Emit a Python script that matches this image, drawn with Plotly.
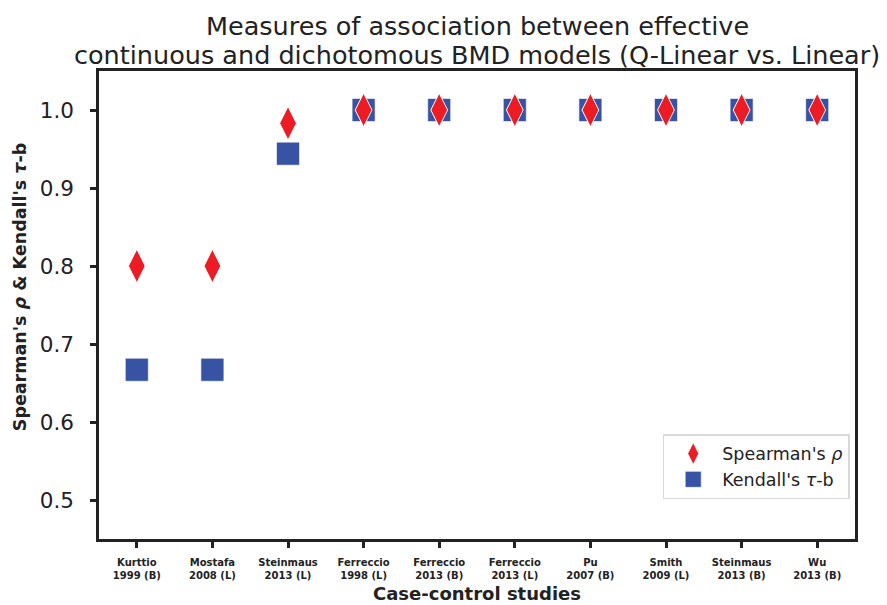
import plotly.graph_objects as go

studies = ["Kurttio<br>1999 (B)", "Mostafa<br>2008 (L)", "Steinmaus<br>2013 (L)",
           "Ferreccio<br>1998 (L)", "Ferreccio<br>2013 (B)", "Ferreccio<br>2013 (L)",
           "Pu<br>2007 (B)", "Smith<br>2009 (L)", "Steinmaus<br>2013 (B)", "Wu<br>2013 (B)"]
spearman = [0.8, 0.8, 0.983, 1.0, 1.0, 1.0, 1.0, 1.0, 1.0, 1.0]
kendall = [0.667, 0.667, 0.944, 1.0, 1.0, 1.0, 1.0, 1.0, 1.0, 1.0]
yticks = [0.5, 0.6, 0.7, 0.8, 0.9, 1.0]
title_lines = ["Measures of association between effective",
               "continuous and dichotomous BMD models (Q-Linear vs. Linear)"]

x = list(range(len(studies)))
FONT = "DejaVu Sans"
RED = "#ED1C24"
BLUE = "#3953A4"
INK = "#222222"

fig = go.Figure()
fig.add_trace(go.Scatter(
    x=x, y=kendall, mode="markers", name="Kendall's <i>τ</i>-b",
    marker=dict(symbol="square", size=23, color=BLUE,
                line=dict(color="rgba(255,255,255,0.6)", width=1))))
fig.add_trace(go.Scatter(
    x=x, y=spearman, mode="markers", name="Spearman's <i>ρ</i>",
    marker=dict(symbol="diamond-tall", size=24, color=RED,
                line=dict(color="white", width=1))))

fig.update_layout(
    width=887, height=605,
    margin=dict(l=99, r=32, t=71, b=66),
    paper_bgcolor="white", plot_bgcolor="white",
    font=dict(family=FONT, color=INK),
    showlegend=True,
    legend=dict(x=0.993, xanchor="right", y=0.085, yanchor="bottom",
                traceorder="reversed", itemwidth=48,
                bordercolor="#d9d9d9", borderwidth=1.5, bgcolor="white",
                font=dict(size=17.5, family=FONT, color=INK)),
)
fig.update_xaxes(
    range=[-0.5, 9.5], tickmode="array", tickvals=x, ticktext=studies,
    tickfont=dict(size=10, family=FONT, weight="bold", color=INK),
    showline=True, mirror=True, linecolor=INK, linewidth=2.5,
    ticks="outside", ticklen=6, tickwidth=2.5, tickcolor=INK,
    ticklabelstandoff=6,
    showgrid=False, zeroline=False)
fig.update_yaxes(
    range=[0.45, 1.05], tickmode="array", tickvals=yticks,
    ticktext=[f"{v:.1f}" for v in yticks],
    tickfont=dict(size=21.5, family=FONT, color=INK),
    showline=True, mirror=True, linecolor=INK, linewidth=2.5,
    ticks="outside", ticklen=6, tickwidth=2.5, tickcolor=INK,
    ticklabelstandoff=12,
    showgrid=False, zeroline=False)

for i, line in enumerate(title_lines):
    fig.add_annotation(text=line, xref="paper", yref="paper", x=0.5,
                       y=1 + (71 - (26 + 29 * i)) / 468,
                       xanchor="center", yanchor="middle", showarrow=False,
                       font=dict(size=25.5, family=FONT, color=INK))

fig.add_annotation(text="<b>Spearman's <i>ρ</i> & Kendall's <i>τ</i>-b</b>",
                   xref="paper", yref="paper", x=(20 - 99) / 756, y=0.538,
                   xanchor="center", yanchor="middle", textangle=-90, showarrow=False,
                   font=dict(size=17.5, family=FONT, color=INK))
fig.add_annotation(text="<b>Case-control studies</b>",
                   xref="paper", yref="paper", x=0.5, y=(539 - 606) / 468,
                   xanchor="center", yanchor="bottom", showarrow=False,
                   font=dict(size=18, family=FONT, color=INK))

fig.write_html("out.html")
